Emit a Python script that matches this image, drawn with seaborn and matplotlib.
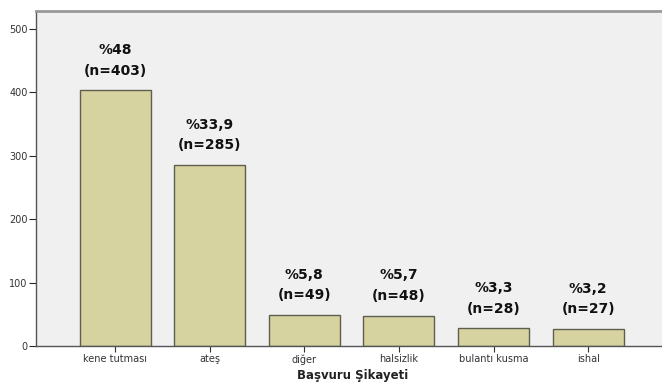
import matplotlib
matplotlib.use("Agg")
import matplotlib.pyplot as plt
import seaborn as sns
import pandas as pd

categories = ["kene tutması", "ateş", "diğer", "halsizlik", "bulantı kusma", "ishal"]
counts = [403, 285, 49, 48, 28, 27]
percents = ["%48", "%33,9", "%5,8", "%5,7", "%3,3", "%3,2"]
yticks = [0, 100, 200, 300, 400, 500]

df = pd.DataFrame({"cat": categories, "n": counts})

sns.set_theme(style="white")
plt.rcParams["font.family"] = ["DejaVu Sans"]

fig = plt.figure(figsize=(6.62, 3.84), dpi=100)
ax = fig.add_axes([36/662, 38/384, 1 - 36/662 + 0.01, (346-11)/384])
ax.set_facecolor("#F0F0F0")

sns.barplot(data=df, x="cat", y="n", ax=ax, color="#D6D3A0", width=0.75,
            edgecolor="#5E5E50", linewidth=1.0, saturation=1)

for i, (c, p) in enumerate(zip(counts, percents)):
    ax.text(i, c + 20, f"{p}\n(n={c})", ha="center", va="bottom",
            fontsize=10, fontweight="bold", color="#111111", linespacing=1.6)

ax.set_ylim(0, 528)
ax.set_xlim(-0.836, 5.85)
ax.set_yticks(yticks)
ax.set_yticklabels([str(v) for v in yticks], fontsize=7, color="#333333")
ax.tick_params(axis="x", labelsize=7, colors="#333333", length=4, width=0.8, pad=2)
ax.tick_params(axis="y", length=5, width=0.8, pad=1, left=True)
ax.tick_params(axis="x", bottom=True)
ax.set_ylabel("")
ax.set_xlabel("Başvuru Şikayeti", fontsize=8.5, fontweight="bold", color="#222222", labelpad=3)

for s in ["left", "bottom", "top"]:
    ax.spines[s].set_color("#555555")
    ax.spines[s].set_linewidth(1.0)
ax.spines["top"].set_color("#999999")
ax.spines["top"].set_linewidth(2)
ax.spines["right"].set_visible(False)

fig.savefig("out.png", dpi=100, facecolor="white")
